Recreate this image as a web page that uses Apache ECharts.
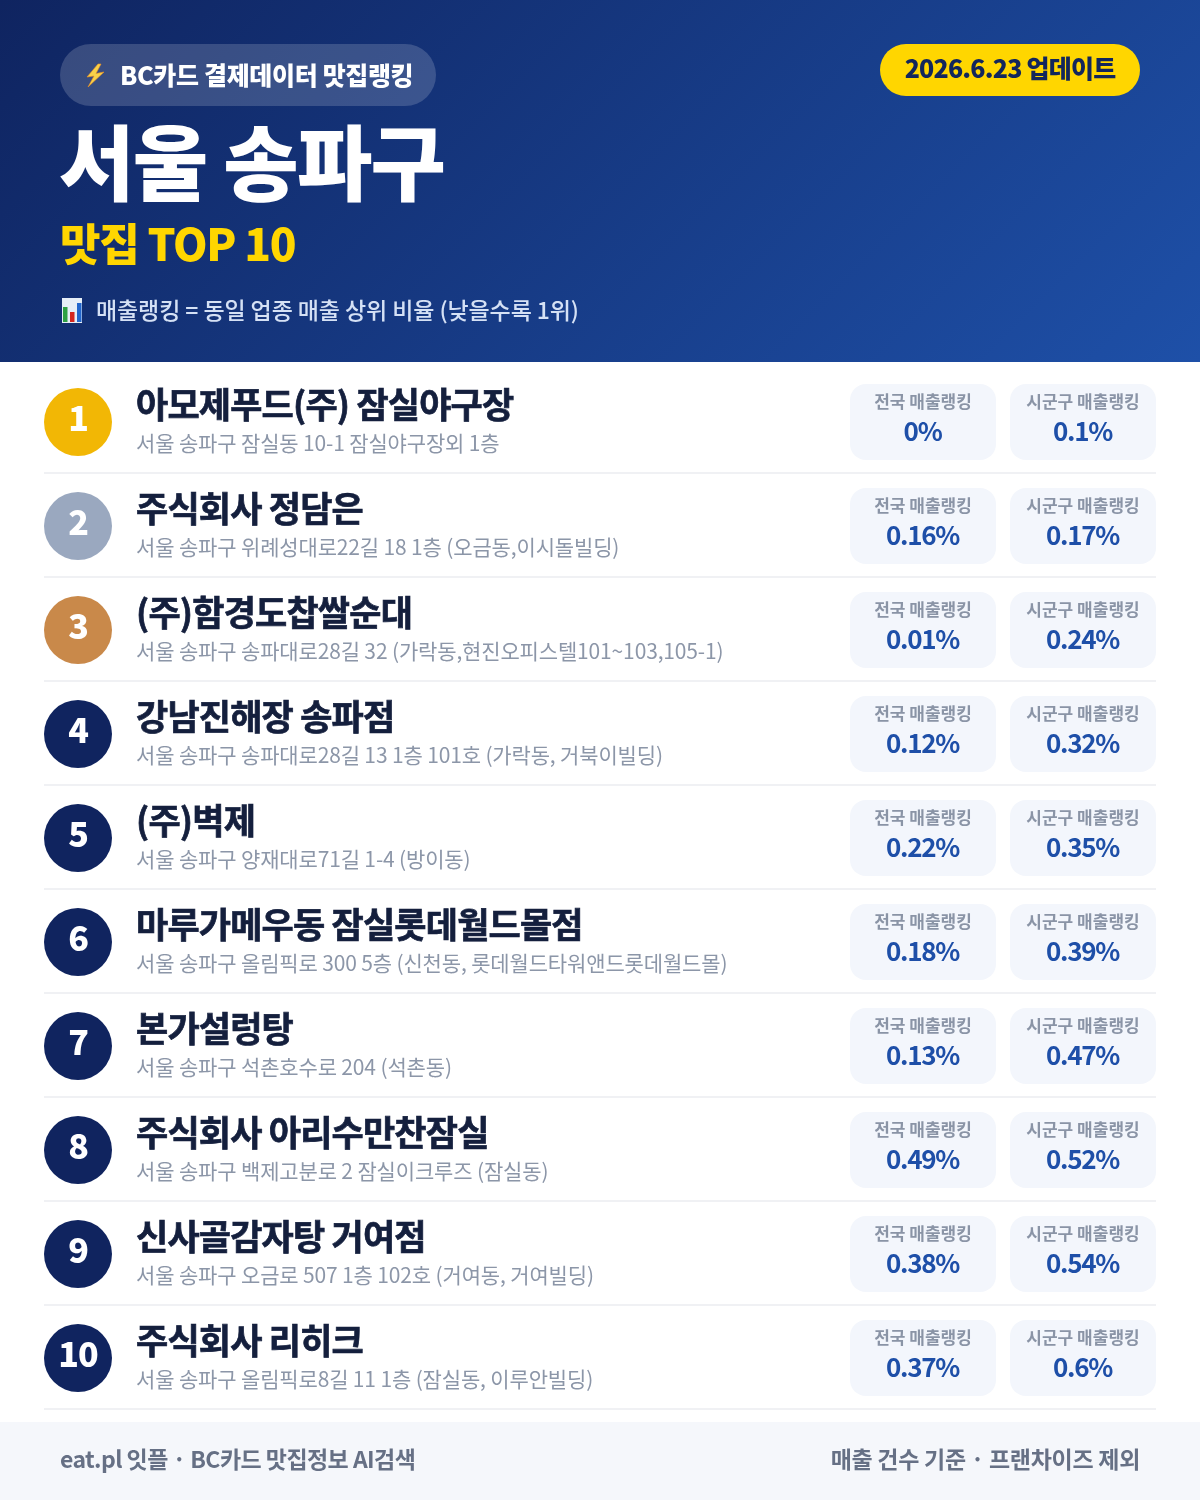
<!DOCTYPE html>
<html><head><meta charset="utf-8">
<style>html,body{margin:0;padding:0;background:#fff}#c{width:1200px;height:1500px}</style>
<script src="https://cdn.jsdelivr.net/npm/echarts@6/dist/echarts.min.js"></script>
</head><body><div id="c"></div>
<script>
const ranks = [1,2,3,4,5,6,7,8,9,10];
const names = ['아모제푸드(주) 잠실야구장','주식회사 정담은','(주)함경도찹쌀순대','강남진해장 송파점','(주)벽제','마루가메우동 잠실롯데월드몰점','본가설렁탕','주식회사 아리수만찬잠실','신사골감자탕 거여점','주식회사 리히크'];
const addresses = ['서울 송파구 잠실동 10-1 잠실야구장외 1층','서울 송파구 위례성대로22길 18 1층 (오금동,이시돌빌딩)','서울 송파구 송파대로28길 32 (가락동,현진오피스텔101~103,105-1)','서울 송파구 송파대로28길 13 1층 101호 (가락동, 거북이빌딩)','서울 송파구 양재대로71길 1-4 (방이동)','서울 송파구 올림픽로 300 5층 (신천동, 롯데월드타워앤드롯데월드몰)','서울 송파구 석촌호수로 204 (석촌동)','서울 송파구 백제고분로 2 잠실이크루즈 (잠실동)','서울 송파구 오금로 507 1층 102호 (거여동, 거여빌딩)','서울 송파구 올림픽로8길 11 1층 (잠실동, 이루안빌딩)'];
const nationalRank = ['0','0.16','0.01','0.12','0.22','0.18','0.13','0.49','0.38','0.37'];
const districtRank = ['0.1','0.17','0.24','0.32','0.35','0.39','0.47','0.52','0.54','0.6'];
const nationalLabel = '전국 매출랭킹';
const districtLabel = '시군구 매출랭킹';
const badgeColors = ['#F2B705','#9AA8BF','#C9894A'];
const FONT = '"Noto Sans CJK KR","Noto Sans",sans-serif';
const f = (w,s)=>`${w} ${s}px ${FONT}`;

/* tracking per font size: the reference's type is set slightly tight */
const tracking = {'82':'-1.8px','44':'-1.2px','35':'-0.8px','34':'-1px','25':'-0.35px','25.01':'-0.8px','26':'-1.3px','23':'-0.55px','23.01':'-0.1px','23.02':'-0.3px','21':'-0.15px'};
const proto = CanvasRenderingContext2D.prototype;
const fontDesc = Object.getOwnPropertyDescriptor(proto,'font');
Object.defineProperty(proto,'font',{configurable:true,get(){return fontDesc.get.call(this);},set(v){
  fontDesc.set.call(this,v);
  const m=/(\d+(?:\.\d+)?)px/.exec(v);
  this.letterSpacing=(m&&tracking[m[1]])||'0px';
}});

function txt(text,x,y,font,fill,align,stroke){
  const style={text,x,y,font,fill,align:align||'left',verticalAlign:'middle'};
  if(stroke){style.stroke=fill;style.lineWidth=stroke;}
  return {type:'text',silent:true,style};
}
function card(x,cy,label,val){
  return [
    {type:'rect',shape:{x,y:cy-38,width:146,height:76,r:16},style:{fill:'#F3F6FC'}},
    txt(label,x+73,cy-20.5,f(700,17),'#8A94A6','center'),
    txt(val+'%',x+72.5,cy+9.5,f(700,26),'#1E4FA8','center')
  ];
}
function renderRow(params,api){
  const i=api.value(0);
  const cy=api.coord([0,i])[1];
  const rowH=api.size([0,1])[1];
  const children=[
    {type:'rect',shape:{x:44,y:cy+rowH/2-2,width:1112,height:2},style:{fill:'#F0F1F4'}},
    {type:'circle',shape:{cx:78,cy:cy,r:34},style:{fill:badgeColors[i]||'#10245F'}},
    txt(String(ranks[i]),78,cy-3.5,f(900,34),'#fff','center'),
    txt(names[i],136,cy-17,f(700,35),'#141F3D','left',0.7),
    txt(addresses[i],136,cy+21,f(400,21),'#8C96A8')
  ];
  return {type:'group',children:children.concat(card(850,cy,nationalLabel,nationalRank[i]),card(1010,cy,districtLabel,districtRank[i]))};
}
const chart=echarts.init(document.getElementById('c'),null,{renderer:'canvas',width:1200,height:1500});
chart.setOption({
  animation:false,
  backgroundColor:'#fff',
  grid:{left:0,right:0,top:370,height:1040},
  xAxis:{type:'value',min:0,max:1,show:false},
  yAxis:{type:'category',inverse:true,data:names,show:false},
  graphic:{elements:[
    {type:'rect',z:-1,shape:{x:0,y:0,width:1200,height:362},style:{fill:{type:'linear',global:true,x:209.5,y:-209.5,x2:990.5,y2:571.5,colorStops:[{offset:0,color:'#0F2460'},{offset:1,color:'#1E50A8'}]}}},
    {type:'rect',shape:{x:60,y:44,width:376,height:62,r:31},style:{fill:'rgba(255,255,255,0.17)'}},
    {type:'polygon',shape:{points:[[98,64],[87,77],[94,76],[88,87],[104,72],[96,73.5],[101,64]]},style:{fill:'#F8D24A',stroke:'#F09020',lineWidth:0.6}},
    txt('BC카드 결제데이터 맛집랭킹',120,75.5,f(900,25),'#fff'),
    txt('서울 송파구',59,163,f(900,82),'#fff'),
    txt('맛집 TOP 10',60,244,f(900,44),'#FFD600'),
    {type:'rect',shape:{x:62,y:298,width:20,height:25},style:{fill:'#E6EEF7'}},
    {type:'rect',shape:{x:63,y:307,width:4.5,height:15},style:{fill:'#2EA043'}},
    {type:'rect',shape:{x:70,y:312,width:4.5,height:10},style:{fill:'#D5261E'}},
    {type:'rect',shape:{x:77,y:303,width:4.5,height:19},style:{fill:'#2266CC'}},
    txt('매출랭킹 = 동일 업종 매출 상위 비율 (낮을수록 1위)',96,310,f(500,23.01),'#D5E1F5'),
    {type:'rect',shape:{x:880,y:44,width:260,height:52,r:26},style:{fill:'#FFD600'}},
    txt('2026.6.23 업데이트',1010,68,f(900,25.01),'#12265C','center'),
    {type:'rect',shape:{x:0,y:1422,width:1200,height:78},style:{fill:'#F5F7FB'}},
    txt('eat.pl 잇플 · BC카드 맛집정보 AI검색',60,1459,f(700,23),'#667085'),
    txt('매출 건수 기준 · 프랜차이즈 제외',1140,1459,f(700,23.02),'#667085','right')
  ]},
  series:[{type:'custom',renderItem:renderRow,clip:false,silent:true,encode:{x:1,y:0},
    data:ranks.map((r,i)=>[i,0])}]
});
</script></body></html>
